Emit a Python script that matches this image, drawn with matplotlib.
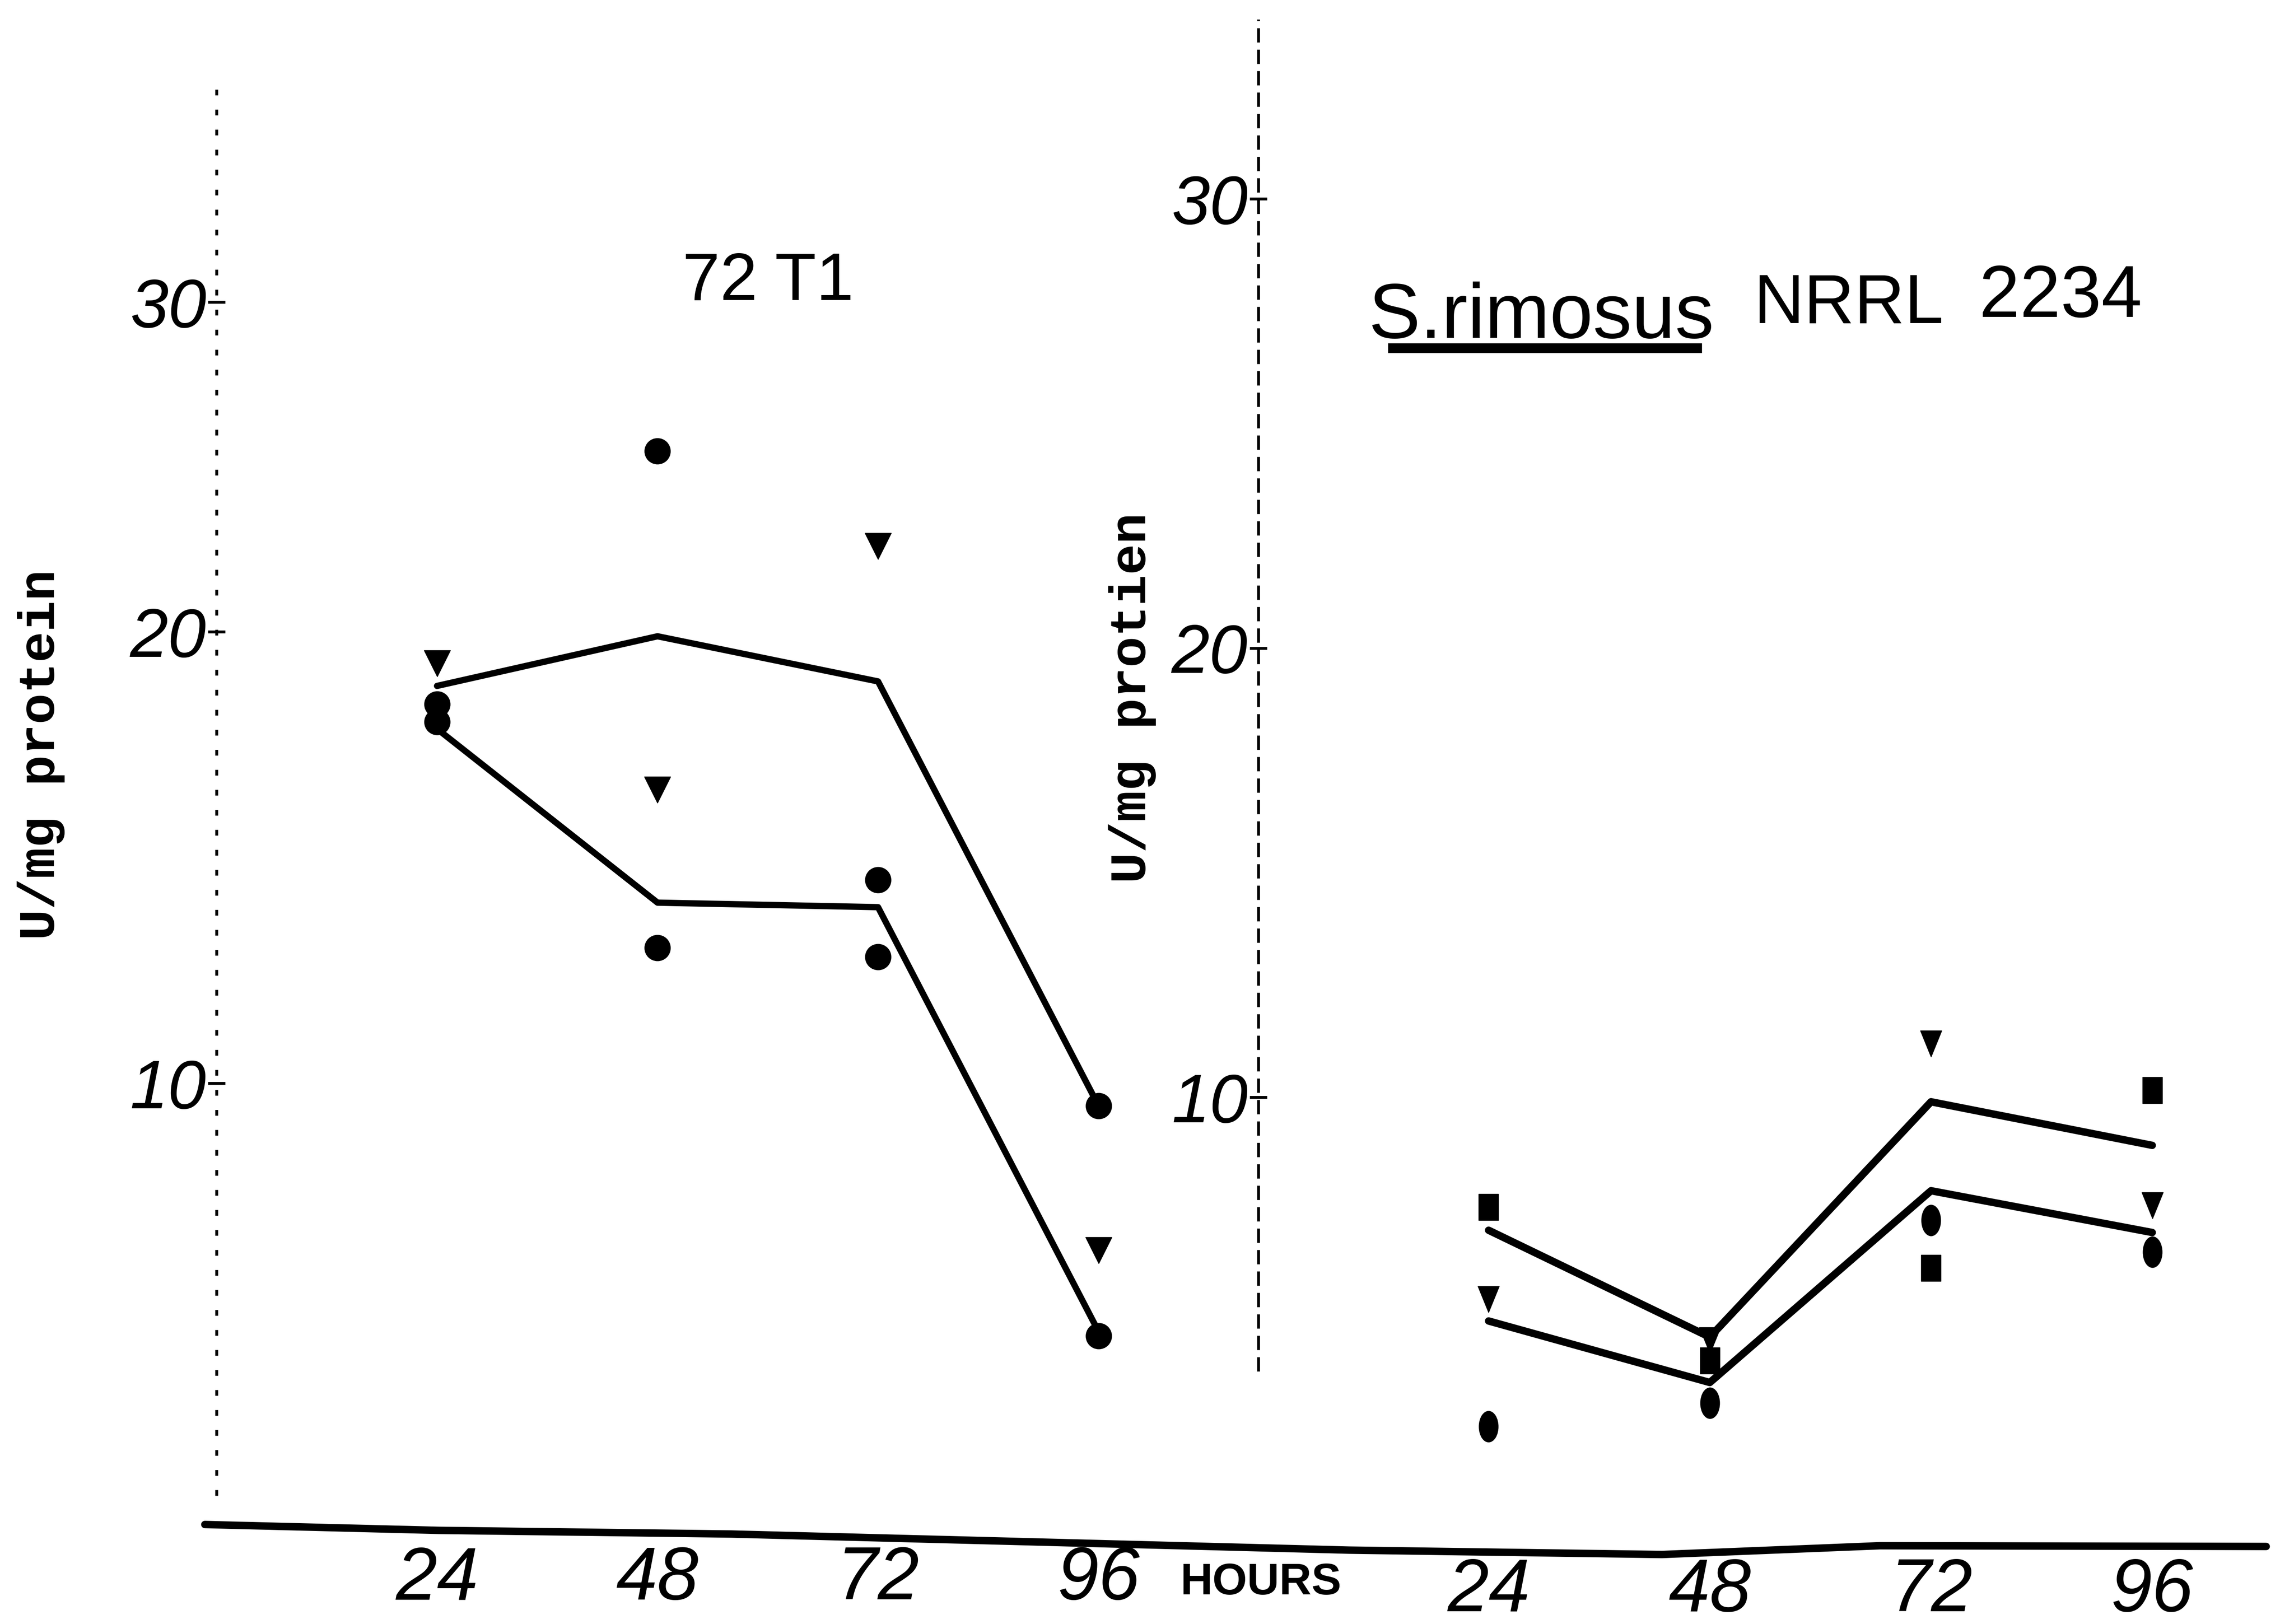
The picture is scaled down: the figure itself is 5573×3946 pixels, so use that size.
import matplotlib
matplotlib.use("Agg")
import matplotlib.pyplot as plt
from matplotlib.lines import Line2D
from matplotlib.markers import MarkerStyle
from matplotlib.transforms import Affine2D

# ---------------- data ----------------
hours = [24, 48, 72, 96]
xtick_labels = ["24", "48", "72", "96"]

# left panel: 72 T1  (U/mg protein)
t1_triangle = [19.3, 16.5, 21.9, 6.3]
t1_dot_a = [18.4, 24.0, 14.5, 9.5]
t1_dot_b = [18.0, 13.0, 12.8, 4.4]
t1_line_upper = [18.8, 19.9, 18.9, 9.5]
t1_line_lower = [17.85, 14.0, 13.9, 4.5]

# right panel: S.rimosus NRRL 2234
nrrl_square = [7.56, 4.14, 6.2, 10.16]
nrrl_triangle = [5.5, 4.59, 11.19, 7.59]
nrrl_dot = [2.67, 3.19, 7.26, 6.56]
nrrl_line_upper = [7.04, 4.66, 9.9, 8.93]
nrrl_line_lower = [5.02, 3.65, 7.92, 6.99]

# hand-drawn tick marks (the left "30" was drawn low on the original)
left_yticks = [10, 20, 27.3]
right_yticks = [10, 20, 30]
ytick_labels = ["10", "20", "30"]

# ---------------- layout helpers (reference grid 1568 x 1110) ----------------
W, H = 1568.0, 1110.0


def fx(x):
    return x / W


def fy(y):
    return 1 - y / H


SANS = ["Liberation Sans", "DejaVu Sans"]
MONO = ["Liberation Mono", "DejaVu Sans Mono"]
plt.rcParams["font.family"] = SANS

fig = plt.figure(figsize=(55.73, 39.46), dpi=100)
fig.patch.set_facecolor("white")

ax1 = fig.add_axes([fx(148), fy(1049), 108 * 6.28 / W, 33.8 * 30.86 / H])
ax1.set_xlim(0, 108)
ax1.set_ylim(0, 33.8)

ax2 = fig.add_axes([fx(860), fy(1057), 108 * 6.3 / W, 34.3 * 30.7 / H])
ax2.set_xlim(-1, 107)
ax2.set_ylim(0, 34.3)

for ax, yt, span, dash in ((ax1, left_yticks, (0.87, 32.2), (0, (2, 5))),
                           (ax2, right_yticks, (3.9, 34.0), (0, (5, 2.5)))):
    ax.patch.set_alpha(0)
    for s in ax.spines.values():
        s.set_visible(False)
    ax.plot([0, 0], list(span), transform=ax.get_yaxis_transform(),
            color="black", lw=5, linestyle=dash, clip_on=False)
    ax.set_yticks(yt)
    ax.set_yticklabels(ytick_labels)
    ax.set_xticks(hours)
    ax.set_xticklabels(xtick_labels)
    ax.tick_params(axis="y", direction="inout", length=30, width=5, pad=3,
                   labelsize=120)
    ax.tick_params(axis="x", length=0, pad=18, labelsize=130)
    for lab in ax.get_xticklabels() + ax.get_yticklabels():
        lab.set_style("italic")
        lab.set_family(SANS)

# ---------------- left panel ----------------
ax1.plot(hours, t1_line_upper, color="black", lw=11, solid_capstyle="round",
         clip_on=False)
ax1.plot(hours, t1_line_lower, color="black", lw=11, solid_capstyle="round",
         clip_on=False)
ax1.plot(hours, t1_triangle, linestyle="none", marker="v", ms=46,
         color="black", clip_on=False)
ax1.plot(hours, t1_dot_a, linestyle="none", marker="o", ms=45,
         color="black", clip_on=False)
ax1.plot(hours, t1_dot_b, linestyle="none", marker="o", ms=45,
         color="black", clip_on=False)

# ---------------- right panel ----------------
oval = MarkerStyle("o", transform=Affine2D().scale(0.62, 1.0))
tall_sq = MarkerStyle("s", transform=Affine2D().scale(0.75, 1.0))
narrow_tri = MarkerStyle("v", transform=Affine2D().scale(0.8, 1.0))
ax2.plot(hours, nrrl_line_upper, color="black", lw=13, solid_capstyle="round",
         clip_on=False)
ax2.plot(hours, nrrl_line_lower, color="black", lw=13, solid_capstyle="round",
         clip_on=False)
ax2.plot(hours, nrrl_square, linestyle="none", marker=tall_sq, ms=46,
         color="black", clip_on=False)
ax2.plot(hours, nrrl_triangle, linestyle="none", marker=narrow_tri, ms=46,
         color="black", clip_on=False)
ax2.plot(hours, nrrl_dot, linestyle="none", marker=oval, ms=54,
         color="black", clip_on=False)

# ---------------- hand-drawn baseline (time axis) ----------------
base_x = [140, 300, 500, 788, 922, 1136, 1285, 1549]
base_y = [1042, 1046, 1048.5, 1056, 1059.5, 1062.5, 1056.5, 1057]
fig.add_artist(Line2D([fx(v) for v in base_x], [fy(v) for v in base_y],
                      transform=fig.transFigure, color="black", lw=13,
                      solid_capstyle="round"))

# ---------------- texts ----------------
fig.text(fx(862), fy(1082), "HOURS", ha="center", va="center",
         fontsize=78, fontweight="bold", family=SANS)

fig.text(fx(28), fy(516), "U/mg protein", rotation=90, ha="center",
         va="center", fontsize=90, fontweight="bold", family=MONO)
fig.text(fx(774), fy(477), "U/mg protien", rotation=90, ha="center",
         va="center", fontsize=90, fontweight="bold", family=MONO)

fig.text(fx(525), fy(193), "72 T1", ha="center", va="center",
         fontsize=118, family=SANS)

fig.text(fx(1053.5), fy(231), "S.rimosus", ha="center", va="baseline",
         fontsize=136, family=SANS)
fig.add_artist(Line2D([fx(952), fx(1160)], [fy(238), fy(238)],
                      transform=fig.transFigure, color="black", lw=17))
fig.text(fx(1263.5), fy(221), "NRRL", ha="center", va="baseline",
         fontsize=122, family=SANS)
fig.text(fx(1408.5), fy(216.5), "2234", ha="center", va="baseline",
         fontsize=128, family=SANS)

fig.savefig("out.png", dpi=100, facecolor="white")
